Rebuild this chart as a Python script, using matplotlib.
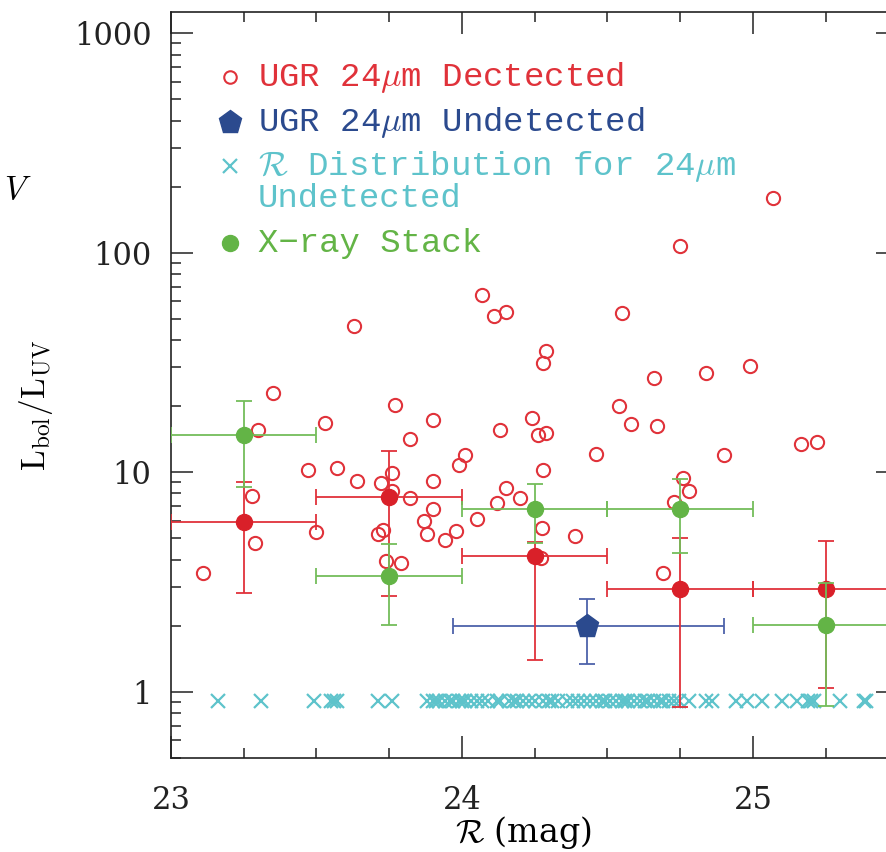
import numpy as np
import matplotlib
matplotlib.use("Agg")
import matplotlib.pyplot as plt
from matplotlib.ticker import FixedLocator, FixedFormatter, NullFormatter

plt.rcParams['font.family'] = ['DejaVu Serif']
plt.rcParams['mathtext.fontset'] = 'cm'

# 24um detected objects (R mag, Lbol/LUV)
det_x = [25.07, 24.75, 24.07, 24.11, 24.15, 24.55, 23.63, 24.29, 24.28, 23.35,
         24.66, 24.84, 24.99, 23.77, 24.54, 23.53, 23.90, 23.30, 24.13, 24.58,
         24.67, 24.24, 24.26, 24.29, 23.82, 25.165, 25.22, 24.46, 24.90, 24.01,
         23.99, 23.47, 23.57, 23.76, 24.28, 23.64, 23.72, 23.90, 24.76, 24.78,
         24.15, 23.28, 23.82, 24.20, 24.12, 24.73, 23.90, 24.05, 23.87, 23.73,
         23.71, 23.88, 23.50, 23.98, 24.275, 23.94, 24.39, 23.29, 23.74, 23.79,
         24.27, 23.11, 24.69, 23.76]
det_y = [178, 107.6, 64.4, 51.6, 53.9, 53.3, 46.5, 35.8, 31.5, 23.0,
         26.9, 28.4, 30.6, 20.3, 20.1, 16.8, 17.3, 15.6, 15.6, 16.6,
         16.3, 17.7, 14.8, 15.1, 14.1, 13.5, 13.7, 12.1, 12.0, 12.0,
         10.8, 10.2, 10.4, 9.95, 10.2, 9.15, 8.96, 9.15, 9.44, 8.24,
         8.5, 7.82, 7.65, 7.65, 7.26, 7.34, 6.82, 6.14, 6.01, 5.47,
         5.25, 5.25, 5.36, 5.41, 5.59, 4.93, 5.14, 4.77, 3.95, 3.87,
         4.08, 3.48, 3.48, 8.24]

# R distribution for 24um undetected
und_x = [23.16, 23.31, 23.49, 23.55, 23.56, 23.57, 23.71, 23.76,
         23.88, 23.90, 23.91, 23.92, 23.94, 23.96, 23.97, 23.99, 24.00, 24.01,
         24.03, 24.05, 24.07, 24.09, 24.12, 24.13, 24.16, 24.18, 24.19, 24.21,
         24.23, 24.25, 24.28, 24.30, 24.31, 24.33, 24.36, 24.38, 24.40, 24.42,
         24.44, 24.46, 24.48, 24.49, 24.51, 24.53, 24.55, 24.56, 24.57, 24.59,
         24.61, 24.63, 24.64, 24.66, 24.68, 24.69, 24.71, 24.73, 24.745, 24.78,
         24.84, 24.86, 24.94, 24.98, 25.03, 25.10, 25.15, 25.19, 25.20, 25.21,
         25.30, 25.38, 25.39]
und_level = 0.91

# stacks: bin centres, bin edges, values and error ranges
bin_x = [23.25, 23.75, 24.25, 24.75, 25.25]
bin_lo = [23.0, 23.5, 24.0, 24.5, 25.0]
bin_hi = [23.5, 24.0, 24.5, 25.0, 25.5]

red_y = [5.9, 7.7, 4.17, 2.95, 2.95]
red_ylo = [2.8, 2.74, 1.4, 0.85, 1.04]
red_yhi = [9.06, 12.5, 4.8, 5.0, 4.87]

grn_y = [14.8, 3.38, 6.8, 6.8, 2.02]
grn_ylo = [8.6, 2.02, 4.77, 4.3, 0.86]
grn_yhi = [21.0, 4.73, 8.87, 9.3, 3.14]

blu_x, blu_y = [24.43], [2.0]
blu_xlo, blu_xhi = [23.97], [24.90]
blu_ylo, blu_yhi = [1.34], [2.65]

RED = '#e0323a'
RED_DOT = '#d92029'
BLUE = '#2b4a8e'
BLUE_BAR = '#4d62aa'
GREEN = '#63b446'
GREEN_BAR = '#74bd5a'
CYAN = '#5ec3cb'

fig = plt.figure(figsize=(8.86, 8.52), dpi=100)
ax = fig.add_axes([0.193, 0.1107, 0.8211, 0.8752])

ax.plot(und_x, [und_level] * len(und_x), 'x', color=CYAN, ms=10.5, mew=1.6, zorder=2)

ax.errorbar(blu_x, blu_y,
            xerr=[np.subtract(blu_x, blu_xlo), np.subtract(blu_xhi, blu_x)],
            yerr=[np.subtract(blu_y, blu_ylo), np.subtract(blu_yhi, blu_y)],
            fmt='none', ecolor=BLUE_BAR, elinewidth=1.3, capsize=6, capthick=1.3, zorder=3)
ax.plot(blu_x, blu_y, 'p', color=BLUE, ms=17, zorder=6)

ax.plot(det_x, det_y, 'o', mfc='none', mec=RED, ms=9.5, mew=1.5, zorder=3)

def stack(y, ylo, yhi, col, barcol, z):
    ax.errorbar(bin_x, y,
                xerr=[np.subtract(bin_x, bin_lo), np.subtract(bin_hi, bin_x)],
                yerr=[np.subtract(y, ylo), np.subtract(yhi, y)],
                fmt='none', ecolor=barcol, elinewidth=1.3, capsize=6, capthick=1.3, zorder=z)
    ax.plot(bin_x, y, 'o', color=col, ms=11.5, zorder=z + 0.5)

stack(red_y, red_ylo, red_yhi, RED_DOT, RED, 4)
stack(grn_y, grn_ylo, grn_yhi, GREEN, GREEN_BAR, 5)

ax.set_yscale('log')
ax.set_xlim(23.0, 25.5)
ax.set_ylim(0.5, 1250)

ax.xaxis.set_major_locator(FixedLocator([23, 24, 25]))
ax.xaxis.set_minor_locator(FixedLocator([23.25, 23.5, 23.75, 24.25, 24.5, 24.75, 25.25]))
ax.set_xticklabels(['23', '24', '25'])
ax.yaxis.set_major_locator(FixedLocator([1, 10, 100, 1000]))
ax.yaxis.set_major_formatter(FixedFormatter(['1', '10', '100', '1000']))
minors = [m * 10.0 ** d for d in range(-1, 4) for m in range(2, 10)]
ax.yaxis.set_minor_locator(FixedLocator(minors))
ax.yaxis.set_minor_formatter(NullFormatter())

ax.tick_params(which='both', direction='in', top=True, right=True, width=1.1, colors='#222222')
ax.tick_params(which='major', length=15.5, labelsize=22, pad=14)
ax.tick_params(which='minor', length=7.5)
ax.tick_params(axis='x', which='major', pad=20)
for s in ax.spines.values():
    s.set_linewidth(1.2)
    s.set_color('#222222')

ax.set_xlabel(r'$\mathcal{R}$ (mag)', fontsize=24)
ax.xaxis.set_label_coords(0.484, -0.076)
ax.set_ylabel(r'$\mathrm{L_{bol}/L_{UV}}$', fontsize=24)
ax.yaxis.set_label_coords(-0.16, 0.472)

# legend drawn by hand
mx, tx = 0.081, 0.119
rows = [0.9128, 0.8523, 0.7933, 0.6899]
ax.plot([mx], [rows[0]], 'o', mfc='none', mec=RED, ms=9, mew=1.5, transform=ax.transAxes, clip_on=False)
ax.plot([mx], [rows[1]], 'p', color=BLUE, ms=17, transform=ax.transAxes, clip_on=False)
ax.plot([mx], [rows[2]], 'x', color=CYAN, ms=10.5, mew=1.6, transform=ax.transAxes, clip_on=False)
ax.plot([mx], [rows[3]], 'o', color=GREEN, ms=11.5, transform=ax.transAxes, clip_on=False)
kw = dict(transform=ax.transAxes, fontsize=24.5, va='center', ha='left',
          family=['Liberation Mono', 'DejaVu Serif'])
ax.text(tx, rows[0], r'UGR 24$\mu$m Dectected', color=RED, **kw)
ax.text(tx, rows[1], r'UGR 24$\mu$m Undetected', color=BLUE, **kw)
ax.text(tx, rows[2], r'$\mathcal{R}$ Distribution for 24$\mu$m', color=CYAN, **kw)
ax.text(tx, 0.7503, 'Undetected', color=CYAN, **kw)
ax.text(tx, rows[3], u'X\u2212ray Stack', color=GREEN, **kw)

# piece of a neighbouring panel's label
fig.text(0.004, 0.777, r'$V$', fontsize=24, ha='left', va='center')

fig.savefig('out.png', dpi=100)
